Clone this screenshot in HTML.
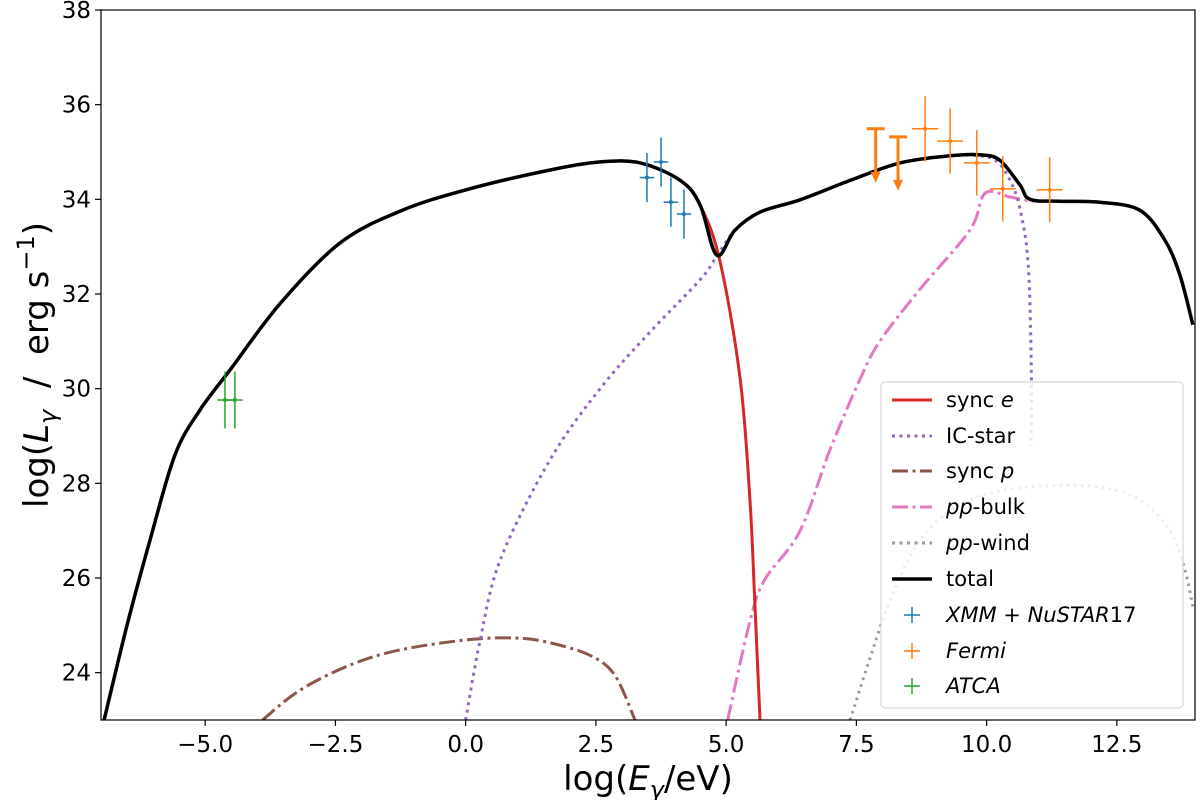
<!DOCTYPE html>
<html><head><meta charset="utf-8"><style>
body{margin:0;background:#fff;}
svg text{font-family:"DejaVu Sans","Liberation Sans",sans-serif;}
</style></head><body>
<svg id="chart" width="1200" height="800" viewBox="0 0 1200 800">
<text x="648" y="790" font-size="34" text-anchor="middle">log(<tspan font-style="italic">E</tspan><tspan font-size="24" font-style="italic" dy="8">γ</tspan><tspan dy="-8">/eV)</tspan></text>
<text transform="translate(48,365) rotate(-90)" font-size="34" text-anchor="middle">log(<tspan font-style="italic">L</tspan><tspan font-size="24" font-style="italic" dy="8">γ</tspan><tspan dy="-8" xml:space="preserve">  /  erg s</tspan><tspan font-size="24" dy="-14">−1</tspan><tspan dy="14">)</tspan></text>
<g id="plotlayer"></g>
<g id="legend-src" font-size="21">
<rect x="881" y="382" width="302" height="326" rx="4" fill="rgba(255,255,255,0.82)" stroke="#ccc"/>
<g><line x1="892" x2="932" y1="400" y2="400" stroke="#d62728" stroke-width="3"/><text x="946" y="407">sync <tspan font-style="italic">e</tspan></text></g>
<g><line x1="892" x2="932" y1="436" y2="436" stroke="#9467bd" stroke-width="3" stroke-dasharray="3,4.5"/><text x="946" y="443">IC-star</text></g>
<g><line x1="892" x2="932" y1="471" y2="471" stroke="#8c564b" stroke-width="3" stroke-dasharray="16,4.5,3,4.5"/><text x="946" y="478">sync <tspan font-style="italic">p</tspan></text></g>
<g><line x1="892" x2="932" y1="507" y2="507" stroke="#e377c2" stroke-width="3" stroke-dasharray="16,4.5,3,4.5"/><text x="946" y="514"><tspan font-style="italic">pp</tspan>-bulk</text></g>
<g><line x1="892" x2="932" y1="543" y2="543" stroke="#9a9a9a" stroke-width="3" stroke-dasharray="3,4.5"/><text x="946" y="550"><tspan font-style="italic">pp</tspan>-wind</text></g>
<g><line x1="892" x2="932" y1="579" y2="579" stroke="#000" stroke-width="3.5"/><text x="946" y="586">total</text></g>
<g><path d="M904,615h16M912,607v16" stroke="#1f77b4" stroke-width="1.5"/><text x="946" y="622" font-style="italic">XMM + NuSTAR<tspan font-style="normal">17</tspan></text></g>
<g><path d="M904,651h16M912,643v16" stroke="#ff7f0e" stroke-width="1.5"/><text x="946" y="658" font-style="italic">Fermi</text></g>
<g><path d="M904,686h16M912,678v16" stroke="#2ca02c" stroke-width="1.5"/><text x="946" y="693" font-style="italic">ATCA</text></g>
</g>
</svg>
<script>
const xTicks=[-5.0,-2.5,0.0,2.5,5.0,7.5,10.0,12.5];
const xTickLabels=["\u22125.0","\u22122.5","0.0","2.5","5.0","7.5","10.0","12.5"];
const yTicks=[24,26,28,30,32,34,36,38];
const totalX=[-6.94,-6.5,-6.06,-5.58,-5.1,-4.52,-3.56,-2.41,-1.26,0,1.62,2.58,3.35,4.12,4.5,4.82,5.17,5.65,6.42,7.38,8.34,9.3,9.87,10.25,10.64,10.83,11.4,12.17,12.94,13.42,13.71,13.96];
const totalY=[23,25.0,26.8,28.6,29.55,30.4,31.8,33.08,33.75,34.2,34.62,34.79,34.77,34.4,33.88,32.82,33.35,33.73,33.99,34.4,34.77,34.92,34.94,34.83,34.3,34.0,33.96,33.94,33.77,33.14,32.4,31.35];
const syncEX=[-6.94,-6.5,-6.06,-5.58,-5.1,-4.52,-3.56,-2.41,-1.26,0,1.62,2.58,3.35,4.12,4.5,4.88,5.27,5.46,5.55,5.65];
const syncEY=[23,25.0,26.8,28.6,29.55,30.4,31.8,33.08,33.75,34.2,34.62,34.79,34.77,34.4,33.88,32.7,30.2,27.6,25.5,23];
const icX=[0,0.28,0.67,1.62,2.58,3.54,4.5,4.82,5.17,5.65,6.42,7.38,8.34,9.3,9.87,10.2,10.45,10.64,10.8,10.86,10.85];
const icY=[23,24.7,26.4,28.5,30.0,31.2,32.3,32.8,33.35,33.73,33.99,34.4,34.77,34.92,34.92,34.8,34.4,33.8,32.6,30.2,28.8];
const syncPX=[-3.9,-3.18,-2.22,-1.26,0.08,1.0,1.62,2.38,2.86,3.25];
const syncPY=[23,23.63,24.16,24.48,24.7,24.73,24.63,24.37,23.95,23];
const ppbX=[5.03,5.46,5.74,6.42,6.99,7.57,7.95,8.72,9.68,9.97,10.45,10.83,11.4,12.17,12.94,13.42,13.71,13.96];
const ppbY=[23,25.1,25.96,27.0,28.7,30.2,31.0,32.1,33.35,34.13,34.05,33.97,33.96,33.94,33.77,33.14,32.4,31.35];
const ppwX=[7.38,7.76,8.14,8.72,9.49,10.26,11.2,12.17,12.94,13.52,13.8,13.96];
const ppwY=[23,24.3,25.5,26.8,27.55,27.84,27.95,27.92,27.65,27.0,26.2,25.4];
const xmmX=[3.48,3.75,3.94,4.19];
const xmmY=[34.46,34.79,33.94,33.69];
const fermiX=[8.82,9.3,9.81,10.31,11.21];
const fermiY=[35.49,35.23,34.77,34.22,34.2];
const ulX=[7.87,8.3];
const ulY=[35.49,35.32];
const atcaX=[-4.62,-4.43];
const atcaY=[29.76,29.76];

const L=101,R=1195,T=10,B=720,xmin=-7,xmax=14,ymin=23,ymax=38;
function X(v){return L+(v-xmin)/(xmax-xmin)*(R-L);}
function Y(v){return B-(v-ymin)/(ymax-ymin)*(B-T);}
const NS="http://www.w3.org/2000/svg";
const svg=document.getElementById('chart');
const layer=document.getElementById('plotlayer');
function mk(tag,attrs,parent){const e=document.createElementNS(NS,tag);for(const k in attrs)e.setAttribute(k,attrs[k]);(parent||layer).appendChild(e);return e;}
const clip=mk('clipPath',{id:'pc'});mk('rect',{x:L,y:T,width:R-L,height:B-T},clip);
const g=mk('g',{'clip-path':'url(#pc)'});


function smooth(xs,ys){const p=xs.map((x,i)=>[X(x),Y(ys[i])]);let d='M'+p[0][0].toFixed(1)+','+p[0][1].toFixed(1);
for(let i=0;i<p.length-1;i++){const p0=p[i-1]||p[i],p1=p[i],p2=p[i+1],p3=p[i+2]||p[i+1];const t=6;
const c1=[p1[0]+(p2[0]-p0[0])/t,p1[1]+(p2[1]-p0[1])/t],c2=[p2[0]-(p3[0]-p1[0])/t,p2[1]-(p3[1]-p1[1])/t];
d+='C'+c1.map(v=>v.toFixed(1)).join(',')+' '+c2.map(v=>v.toFixed(1)).join(',')+' '+p2[0].toFixed(1)+','+p2[1].toFixed(1);}return d;}
function line(xs,ys,col,w,dash,name){
const p=mk('path',{d:smooth(xs,ys),fill:'none',stroke:col,'stroke-width':w,'stroke-dasharray':dash||'none','stroke-linejoin':'round'},g);

}
line(ppwX,ppwY,'#9a9a9a',3,'2.5,4.5','pp-wind-line');
line(syncPX,syncPY,'#8c564b',3,'16,4.5,3,4.5','sync-p-line');
line(ppbX,ppbY,'#e377c2',3,'16,4.5,3,4.5','pp-bulk-line');
line(icX,icY,'#9467bd',3,'3,4.5','ic-star-line');
line(syncEX,syncEY,'#d62728',3,'','sync-e-line');
line(totalX,totalY,'#000',3.5,'','total-line');
function errpt(x,y,xe,ye,col,name){const gg=mk('g',{},g);
mk('line',{x1:X(x-xe),x2:X(x+xe),y1:Y(y),y2:Y(y),stroke:col,'stroke-width':1.5},gg);
mk('line',{x1:X(x),x2:X(x),y1:Y(y-ye),y2:Y(y+ye),stroke:col,'stroke-width':1.5},gg);
mk('circle',{cx:X(x),cy:Y(y),r:2,fill:col},gg);}
xmmX.forEach((x,i)=>errpt(x,xmmY[i],0.14,0.52,'#1f77b4','xmm-point'));
fermiX.forEach((x,i)=>errpt(x,fermiY[i],0.25,0.69,'#ff7f0e','fermi-point'));
atcaX.forEach((x,i)=>errpt(x,atcaY[i],0.15,0.6,'#2ca02c','atca-point'));
ulX.forEach((x,i)=>{const gg=mk('g',{},g);
const px=X(x),py=Y(ulY[i]),py2=Y(ulY[i]-1.1);
mk('line',{x1:px-9,x2:px+9,y1:py,y2:py,stroke:'#ff7f0e','stroke-width':3},gg);
mk('line',{x1:px,x2:px,y1:py,y2:py2-8,stroke:'#ff7f0e','stroke-width':3},gg);
mk('path',{d:`M${px-5},${py2-9}L${px+5},${py2-9}L${px},${py2+2}Z`,fill:'#ff7f0e'},gg);});
const fr=mk('rect',{x:L,y:T,width:R-L,height:B-T,fill:'none',stroke:'#000','stroke-width':1.2});

xTicks.forEach((t,i)=>{mk('line',{x1:X(t),x2:X(t),y1:B,y2:B+6,stroke:'#000','stroke-width':1.2});
const tx=mk('text',{x:X(t),y:B+32,'font-size':23,'text-anchor':'middle'});tx.textContent=xTickLabels[i];
});
yTicks.forEach(t=>{mk('line',{x1:L-6,x2:L,y1:Y(t),y2:Y(t),stroke:'#000','stroke-width':1.2});
const tx=mk('text',{x:L-10,y:Y(t)+8,'font-size':23,'text-anchor':'end'});tx.textContent=t;
});
</script>
</body></html>
